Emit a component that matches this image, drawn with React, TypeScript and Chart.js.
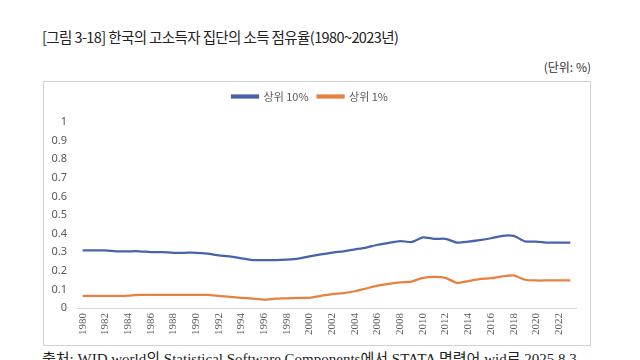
import React, { useEffect, useRef } from "react";
import { Chart, registerables } from "chart.js";

Chart.register(...registerables);

const years: string[] = [];
for (let y = 1980; y <= 2023; y++) years.push(String(y));

const top10: number[] = [
  0.31, 0.31, 0.31, 0.305, 0.305, 0.305, 0.3, 0.3, 0.297, 0.297,
  0.297, 0.292, 0.283, 0.277, 0.267, 0.258, 0.257, 0.257, 0.26, 0.265,
  0.277, 0.288, 0.298, 0.305, 0.315, 0.325, 0.34, 0.35, 0.36, 0.355,
  0.38, 0.372, 0.372, 0.352, 0.357, 0.365, 0.375, 0.388, 0.388, 0.358,
  0.357, 0.352, 0.352, 0.352,
];

const top1: number[] = [
  0.065, 0.065, 0.065, 0.065, 0.067, 0.07, 0.07, 0.07, 0.07, 0.07,
  0.07, 0.07, 0.065, 0.06, 0.055, 0.05, 0.045, 0.05, 0.052, 0.055,
  0.055, 0.065, 0.075, 0.08, 0.09, 0.105, 0.12, 0.13, 0.138, 0.142,
  0.162, 0.168, 0.162, 0.135, 0.145, 0.155, 0.16, 0.17, 0.175, 0.152,
  0.148, 0.148, 0.148, 0.148,
];

const seriesNames = ["상위 10%", "상위 1%"];
const yTicks = [0, 0.1, 0.2, 0.3, 0.4, 0.5, 0.6, 0.7, 0.8, 0.9, 1];

const BLUE = "#4763AE";
const ORANGE = "#E6823E";

const legendSpacer = {
  id: "legendSpacer",
  beforeInit(chart: any) {
    const legend = chart.legend;
    if (!legend) return;
    const origFit = legend.fit;
    legend.fit = function () {
      origFit.call(this);
      this.height += 10;
    };
  },
};

function LineChart() {
  const ref = useRef<HTMLCanvasElement | null>(null);
  useEffect(() => {
    if (!ref.current) return;
    const chart = new Chart(ref.current, {
      type: "line",
      data: {
        labels: years,
        datasets: [
          {
            label: seriesNames[0],
            data: top10,
            borderColor: BLUE,
            backgroundColor: BLUE,
            borderWidth: 2.25,
            pointRadius: 0,
            tension: 0.2,
          },
          {
            label: seriesNames[1],
            data: top1,
            borderColor: ORANGE,
            backgroundColor: ORANGE,
            borderWidth: 2.25,
            pointRadius: 0,
            tension: 0.2,
          },
        ],
      },
      plugins: [legendSpacer],
      options: {
        animation: false,
        responsive: false,
        maintainAspectRatio: false,
        layout: { padding: { left: 0, right: 14, top: 0, bottom: 0 } },
        plugins: {
          legend: {
            position: "top",
            align: "center",
            labels: {
              boxWidth: 26,
              boxHeight: 2,
              padding: 9,
              color: "#595959",
              font: { family: "Noto Sans CJK KR", size: 11 },
            },
          },
          tooltip: { enabled: false },
        },
        scales: {
          x: {
            offset: true,
            grid: { display: false, drawTicks: false },
            border: { display: true, color: "#d9d9d9" },
            afterFit: (s: any) => {
              s.height = 37;
            },
            ticks: {
              autoSkip: false,
              maxRotation: 90,
              minRotation: 90,
              padding: 5,
              color: "#595959",
              font: { family: "Liberation Serif", size: 11 },
              callback: (_v: any, i: number) => (i % 2 === 0 ? years[i] : ""),
            },
          },
          y: {
            min: 0,
            max: 1,
            afterBuildTicks: (s: any) => {
              s.ticks = yTicks.map((v) => ({ value: v }));
            },
            afterFit: (s: any) => {
              s.width = 33;
            },
            grid: { display: false, drawTicks: false },
            border: { display: false },
            ticks: {
              padding: 10,
              color: "#595959",
              font: { family: "Noto Sans", size: 11 },
              callback: (v: any) => String(Number(v)),
            },
          },
        },
      },
    });
    return () => chart.destroy();
  }, []);
  return <canvas ref={ref} width={546} height={263} style={{ display: "block" }} />;
}

export default function App() {
  return (
    <div
      style={{
        position: "fixed",
        left: 0,
        top: 0,
        width: 640,
        height: 360,
        overflow: "hidden",
        background: "#fff",
      }}
    >
      <div
        style={{
          position: "absolute",
          left: 42,
          top: 26,
          fontFamily: "Noto Sans CJK KR",
          fontSize: 14.5,
          color: "#222",
          whiteSpace: "nowrap",
          letterSpacing: -0.6,
        }}
      >
        [그림 3-18] 한국의 고소득자 집단의 소득 점유율(1980~2023년)
      </div>
      <div
        style={{
          position: "absolute",
          right: 49,
          top: 58,
          fontFamily: "Noto Sans CJK KR",
          fontSize: 12,
          color: "#333",
          whiteSpace: "nowrap",
        }}
      >
        (단위: %)
      </div>
      <div
        style={{
          position: "absolute",
          left: 43,
          top: 81,
          width: 546,
          height: 263,
          border: "1px solid #d0d0d0",
        }}
      >
        <LineChart />
      </div>
      <div
        style={{
          position: "absolute",
          left: 42,
          top: 347,
          fontFamily: "Liberation Serif, Noto Sans CJK KR",
          fontSize: 15,
          color: "#222",
          whiteSpace: "nowrap",
        }}
      >
        출처: WID.world의 Statistical Software Components에서 STATA 명령어 wid로 2025.8.3
      </div>
    </div>
  );
}
